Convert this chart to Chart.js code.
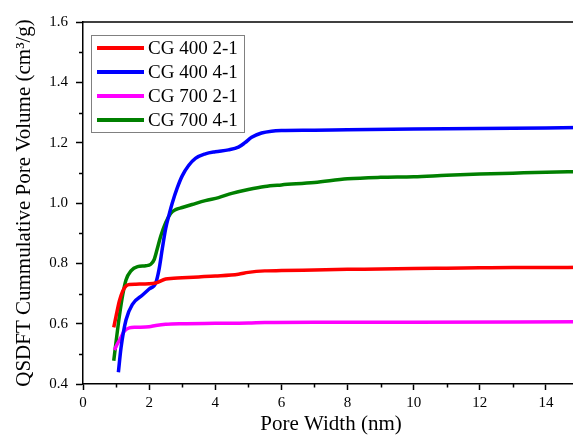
<!DOCTYPE html>
<html lang="en">
<head>
    <meta charset="UTF-8">
    <title>Cumulative Pore Volume</title>
    <script src="https://cdn.jsdelivr.net/npm/chart.js"></script>
    <style>
        html, body { margin: 0; padding: 0; background: #fff; overflow: hidden; }
        #wrap { width: 580px; height: 439px; }
    </style>
</head>
<body>
    <div id="wrap"><canvas id="myChart" width="580" height="439"></canvas></div>

    <script>
        // pore width (nm) and cumulative volume (cm3/g) for each sample
        const labels = ['CG 400 2-1', 'CG 400 4-1', 'CG 700 2-1', 'CG 700 4-1'];
        const colors = ['#ff0000', '#0000ff', '#ff00ff', '#008000'];

        const w400_21 = [0.93, 1.0, 1.1, 1.2, 1.3, 1.4, 1.6, 2.0, 2.2, 2.5, 3.0, 3.5, 4.0, 4.7, 5.0, 5.5, 6.0, 7.0, 8.0, 9.0, 10, 11, 12, 13, 14, 15];
        const v400_21 = [0.588, 0.625, 0.675, 0.708, 0.725, 0.730, 0.731, 0.732, 0.735, 0.748, 0.752, 0.755, 0.758, 0.764, 0.770, 0.775, 0.776, 0.778, 0.780, 0.781, 0.783, 0.784, 0.785, 0.786, 0.786, 0.787];

        const w400_41 = [1.07, 1.15, 1.3, 1.5, 1.8, 2.0, 2.2, 2.3, 2.4, 2.5, 2.6, 2.7, 2.85, 3.0, 3.2, 3.4, 3.7, 4.0, 4.4, 4.7, 4.9, 5.1, 5.4, 5.7, 6.0, 7.0, 8.0, 10, 12, 14, 15];
        const v400_41 = [0.439, 0.52, 0.612, 0.665, 0.695, 0.715, 0.735, 0.78, 0.85, 0.915, 0.96, 1.0, 1.05, 1.09, 1.125, 1.148, 1.163, 1.170, 1.176, 1.185, 1.200, 1.218, 1.232, 1.238, 1.240, 1.241, 1.243, 1.245, 1.247, 1.249, 1.250];

        const w700_21 = [0.95, 1.05, 1.15, 1.25, 1.4, 1.6, 2.0, 2.2, 2.5, 3.0, 4.0, 5.0, 5.5, 7.0, 10, 15];
        const v700_21 = [0.513, 0.535, 0.555, 0.575, 0.586, 0.588, 0.590, 0.594, 0.598, 0.600, 0.601, 0.602, 0.604, 0.605, 0.605, 0.606];

        const w700_41 = [0.93, 1.0, 1.1, 1.2, 1.3, 1.45, 1.65, 1.9, 2.05, 2.15, 2.25, 2.35, 2.5, 2.65, 2.8, 3.0, 3.3, 3.7, 4.1, 4.5, 5.0, 5.5, 6.0, 7.0, 8.0, 9.0, 10, 11, 12, 13, 14, 15];
        const v700_41 = [0.477, 0.54, 0.625, 0.695, 0.745, 0.775, 0.789, 0.792, 0.797, 0.812, 0.85, 0.89, 0.935, 0.965, 0.978, 0.985, 0.995, 1.008, 1.018, 1.032, 1.045, 1.055, 1.060, 1.068, 1.080, 1.085, 1.087, 1.092, 1.096, 1.099, 1.102, 1.104];

        const xMinor = [1, 3, 5, 7, 9, 11, 13];
        const yMinor = [0.5, 0.7, 0.9, 1.1, 1.3, 1.5];

        const serif = "'Liberation Serif', 'Times New Roman', serif";

        function toPoints(xs, ys) {
            return xs.map((x, i) => ({ x: x, y: ys[i] }));
        }

        const series = [
            toPoints(w400_21, v400_21),
            toPoints(w400_41, v400_41),
            toPoints(w700_21, v700_21),
            toPoints(w700_41, v700_41)
        ];

        // short minor ticks plus the top frame line
        const frame = {
            id: 'frame',
            afterDraw(chart) {
                const ctx = chart.ctx;
                const area = chart.chartArea;
                const xs = chart.scales.x;
                const ys = chart.scales.y;
                ctx.save();
                ctx.strokeStyle = '#000';
                ctx.lineWidth = 1.5;
                ctx.beginPath();
                ctx.moveTo(area.left, area.top);
                ctx.lineTo(area.right, area.top);
                ctx.stroke();
                ctx.beginPath();
                xMinor.forEach(v => {
                    const px = Math.round(xs.getPixelForValue(v)) + 0.5;
                    ctx.moveTo(px, area.bottom);
                    ctx.lineTo(px, area.bottom + 3.5);
                });
                yMinor.forEach(v => {
                    const py = Math.round(ys.getPixelForValue(v)) + 0.5;
                    ctx.moveTo(area.left, py);
                    ctx.lineTo(area.left - 4, py);
                });
                ctx.stroke();
                ctx.restore();
            }
        };

        // boxed legend in the upper left corner of the plot
        const boxLegend = {
            id: 'boxLegend',
            afterDraw(chart) {
                const ctx = chart.ctx;
                const area = chart.chartArea;
                const left = area.left + 8;
                const top = area.top + 13;
                const rowH = 24;
                ctx.save();
                ctx.fillStyle = '#fff';
                ctx.fillRect(left, top, 153, 97);
                ctx.strokeStyle = '#808080';
                ctx.lineWidth = 1;
                ctx.strokeRect(left + 0.5, top + 0.5, 153, 97);
                ctx.font = '19px ' + serif;
                ctx.textBaseline = 'middle';
                chart.data.datasets.forEach((ds, i) => {
                    const y = top + 13 + i * rowH;
                    ctx.strokeStyle = ds.borderColor;
                    ctx.lineWidth = 4;
                    ctx.beginPath();
                    ctx.moveTo(left + 6, y);
                    ctx.lineTo(left + 53, y);
                    ctx.stroke();
                    ctx.fillStyle = '#000';
                    ctx.fillText(ds.label, left + 57, y + 1);
                });
                ctx.restore();
            }
        };

        const ctx = document.getElementById('myChart').getContext('2d');
        const myChart = new Chart(ctx, {
            type: 'line',
            data: {
                datasets: series.map((pts, i) => ({
                    label: labels[i],
                    data: pts,
                    borderColor: colors[i],
                    backgroundColor: colors[i],
                    borderWidth: 3.5,
                    pointRadius: 0,
                    fill: false,
                    cubicInterpolationMode: 'monotone'
                }))
            },
            options: {
                responsive: false,
                animation: false,
                devicePixelRatio: 1,
                layout: { padding: { top: 22, right: 1, left: 0, bottom: 2 } },
                plugins: {
                    legend: { display: false },
                    tooltip: { enabled: false }
                },
                scales: {
                    x: {
                        type: 'linear',
                        min: 0,
                        max: 15,
                        grid: {
                            drawOnChartArea: false,
                            drawTicks: true,
                            tickLength: 6,
                            tickColor: '#000',
                            tickWidth: 1.5
                        },
                        border: { display: true, color: '#000', width: 1.5 },
                        ticks: {
                            stepSize: 2,
                            includeBounds: false,
                            color: '#000',
                            padding: 4,
                            maxRotation: 0,
                            font: { family: serif, size: 15 }
                        },
                        title: {
                            display: true,
                            text: 'Pore Width (nm)',
                            color: '#000',
                            padding: { top: 2, bottom: 0 },
                            font: { family: serif, size: 21 }
                        },
                        afterFit(scale) { scale.height = 53; }
                    },
                    y: {
                        type: 'linear',
                        min: 0.4,
                        max: 1.6,
                        grid: {
                            drawOnChartArea: false,
                            drawTicks: true,
                            tickLength: 7,
                            tickColor: '#000',
                            tickWidth: 1.5
                        },
                        border: { display: true, color: '#000', width: 1.5 },
                        ticks: {
                            stepSize: 0.2,
                            color: '#000',
                            padding: 8,
                            font: { family: serif, size: 15 },
                            callback: v => v.toFixed(1)
                        },
                        title: {
                            display: true,
                            text: 'QSDFT Cummulative Pore Volume (cm³/g)',
                            color: '#000',
                            padding: { top: 12, bottom: 0 },
                            font: { family: serif, size: 21 }
                        },
                        afterFit(scale) { scale.width = 83; }
                    }
                }
            },
            plugins: [frame, boxLegend]
        });
    </script>
</body>
</html>
